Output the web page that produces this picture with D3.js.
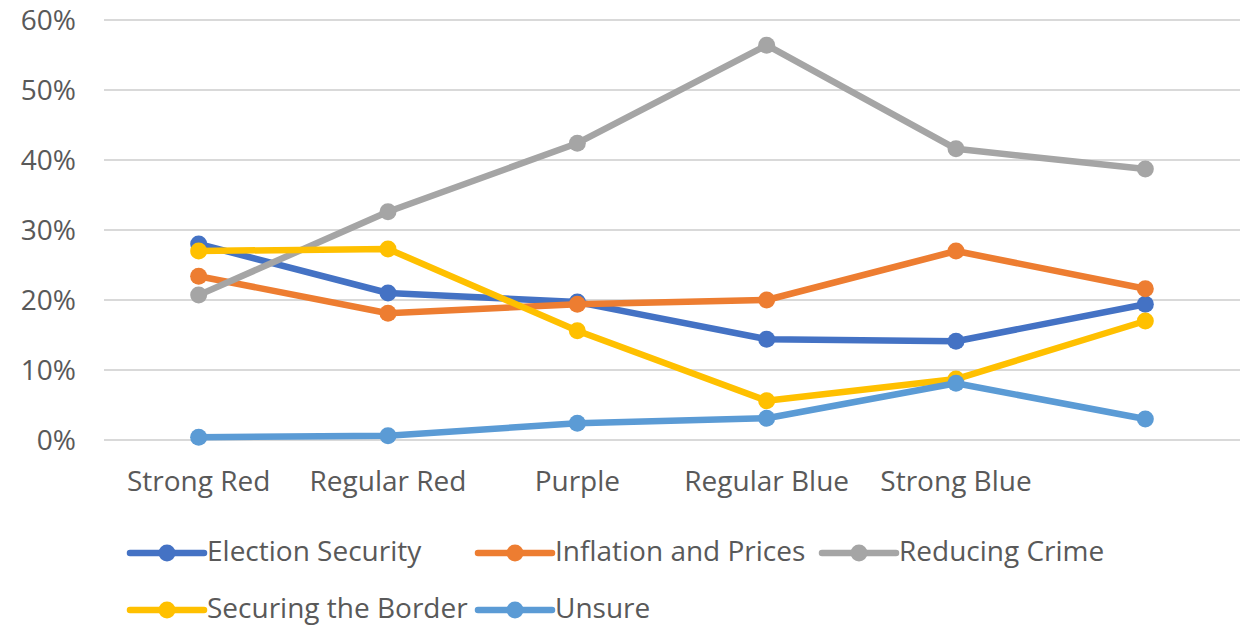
<!DOCTYPE html>
<html><head><meta charset="utf-8">
<script src="https://cdn.jsdelivr.net/npm/d3@7"></script>
<style>
html,body{margin:0;padding:0;background:#fff;}
svg text{font-family:"Open Sans","Noto Sans",sans-serif;fill:#595959;}
</style></head>
<body>
<svg id="chart" width="1241" height="629"></svg>
<script>
const categories = ["Strong Red","Regular Red","Purple","Regular Blue","Strong Blue",""];
const seriesNames = ["Election Security","Inflation and Prices","Reducing Crime","Securing the Border","Unsure"];
const electionSecurity = [0.280,0.210,0.197,0.144,0.141,0.194];
const inflationPrices  = [0.234,0.181,0.194,0.200,0.270,0.216];
const reducingCrime    = [0.207,0.326,0.424,0.564,0.416,0.387];
const securingBorder   = [0.270,0.273,0.156,0.056,0.087,0.170];
const unsure           = [0.004,0.006,0.024,0.031,0.081,0.030];
const yTicks = [0,0.1,0.2,0.3,0.4,0.5,0.6];
const colors = ["#4472C4","#ED7D31","#A5A5A5","#FFC000","#5B9BD5"];

const series = [electionSecurity,inflationPrices,reducingCrime,securingBorder,unsure]
  .map((v,i)=>({name:seriesNames[i], values:v, color:colors[i]}));

const svg = d3.select("#chart");
const x = d3.scaleBand().domain(categories.map((c,i)=>i)).range([104,1240]);
const y = d3.scaleLinear().domain([0,0.6]).range([440,20]);
const FS = "28px";

// gridlines
svg.append("g").selectAll("line").data(yTicks).join("line")
  .attr("x1",104).attr("x2",1240)
  .attr("y1",d=>y(d)).attr("y2",d=>y(d))
  .attr("stroke","#D9D9D9").attr("stroke-width",2);

// y axis labels
const yAxis = d3.axisLeft(y).tickValues(yTicks).tickFormat(d3.format(".0%")).tickSize(0).tickPadding(0);
const gy = svg.append("g").attr("transform","translate(76,0)").call(yAxis);
gy.select(".domain").remove();
gy.selectAll("text").style("font-size",FS).attr("dy","0.35em").style("fill","#595959");

// x axis labels
const xAxis = d3.axisBottom(x).tickFormat(i=>categories[i]).tickSize(0).tickPadding(0);
const gx = svg.append("g").attr("transform","translate(0,470)").call(xAxis);
gx.select(".domain").remove();
gx.selectAll("text").style("font-size",FS).attr("dy","0.35em").attr("y",11).style("fill","#595959");
svg.selectAll("g").attr("font-family",null);

const cx = i => x(i) + x.bandwidth()/2;
const line = d3.line().x((d,i)=>cx(i)).y(d=>y(d));

const g = svg.append("g");
series.forEach(s=>{
  g.append("path").attr("d",line(s.values)).attr("fill","none")
    .attr("stroke",s.color).attr("stroke-width",6.5).attr("stroke-linejoin","round");
  g.selectAll(null).data(s.values).join("circle")
    .attr("cx",(d,i)=>cx(i)).attr("cy",d=>y(d)).attr("r",8.5).attr("fill",s.color);
});

// legend
const legendPos = [[130,553],[478,553],[822,553],[130,610],[478,610]];
series.forEach((s,i)=>{
  const [lx,ly] = legendPos[i];
  const lg = svg.append("g").attr("transform",`translate(${lx},${ly})`);
  lg.append("line").attr("x1",0).attr("x2",74).attr("y1",0).attr("y2",0)
    .attr("stroke",s.color).attr("stroke-width",6.5).attr("stroke-linecap","round");
  lg.append("circle").attr("cx",37).attr("cy",0).attr("r",8.5).attr("fill",s.color);
  lg.append("text").attr("x",77).attr("y",0).attr("dy","0.3em")
    .style("font-size",FS).text(s.name);
});
</script>
</body></html>
